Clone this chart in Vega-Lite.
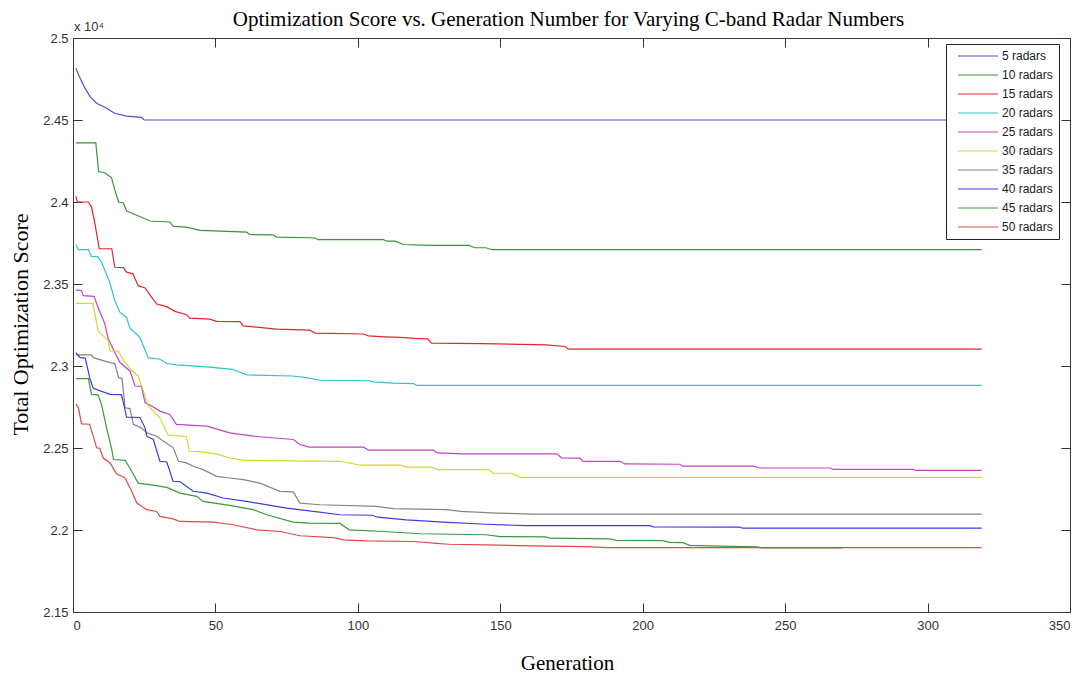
{
  "$schema": "https://vega.github.io/schema/vega-lite/v6.json",
  "width": 997,
  "height": 574,
  "autosize": {"type": "none"},
  "padding": {"left": 73, "top": 38, "right": 6, "bottom": 65},
  "background": "white",
  "datasets": {
    "note": [{"g": 0, "v": 25000, "label": "x 10⁴"}],
    "runs": [
      {"s":"5 radars","g":1,"v":24816},{"s":"5 radars","g":2.5,"v":24755},{"s":"5 radars","g":4.2,"v":24694},{"s":"5 radars","g":6,"v":24643},{"s":"5 radars","g":8.3,"v":24602},{"s":"5 radars","g":11.8,"v":24572},{"s":"5 radars","g":14.6,"v":24541},{"s":"5 radars","g":18.8,"v":24524},{"s":"5 radars","g":24,"v":24516},{"s":"5 radars","g":25,"v":24500},{"s":"5 radars","g":319,"v":24500},

      {"s":"10 radars","g":1,"v":24361},{"s":"10 radars","g":8,"v":24361},{"s":"10 radars","g":9,"v":24184},{"s":"10 radars","g":11,"v":24180},{"s":"10 radars","g":13.5,"v":24149},{"s":"10 radars","g":14.7,"v":24072},{"s":"10 radars","g":16,"v":24000},{"s":"10 radars","g":17.7,"v":23994},{"s":"10 radars","g":18.8,"v":23945},{"s":"10 radars","g":22.4,"v":23919},{"s":"10 radars","g":27,"v":23884},{"s":"10 radars","g":34,"v":23878},{"s":"10 radars","g":35.2,"v":23851},{"s":"10 radars","g":39.8,"v":23847},{"s":"10 radars","g":44.6,"v":23827},{"s":"10 radars","g":61,"v":23816},{"s":"10 radars","g":62,"v":23802},{"s":"10 radars","g":70.3,"v":23800},{"s":"10 radars","g":71.5,"v":23786},{"s":"10 radars","g":83,"v":23782},{"s":"10 radars","g":85,"v":23780},{"s":"10 radars","g":86,"v":23770},{"s":"10 radars","g":109,"v":23770},{"s":"10 radars","g":110,"v":23761},{"s":"10 radars","g":113,"v":23761},{"s":"10 radars","g":116,"v":23741},{"s":"10 radars","g":125,"v":23735},{"s":"10 radars","g":139,"v":23735},{"s":"10 radars","g":141,"v":23721},{"s":"10 radars","g":145,"v":23721},{"s":"10 radars","g":147,"v":23709},{"s":"10 radars","g":319,"v":23709},

      {"s":"15 radars","g":1,"v":24035},{"s":"15 radars","g":1.5,"v":24000},{"s":"15 radars","g":5.4,"v":24000},{"s":"15 radars","g":6.5,"v":23969},{"s":"15 radars","g":7.7,"v":23868},{"s":"15 radars","g":9.2,"v":23715},{"s":"15 radars","g":13.6,"v":23715},{"s":"15 radars","g":14.7,"v":23602},{"s":"15 radars","g":17.7,"v":23600},{"s":"15 radars","g":18.8,"v":23572},{"s":"15 radars","g":21,"v":23562},{"s":"15 radars","g":22.9,"v":23490},{"s":"15 radars","g":25.3,"v":23476},{"s":"15 radars","g":27.6,"v":23419},{"s":"15 radars","g":29.4,"v":23378},{"s":"15 radars","g":32.9,"v":23362},{"s":"15 radars","g":35.8,"v":23333},{"s":"15 radars","g":39.9,"v":23313},{"s":"15 radars","g":41,"v":23292},{"s":"15 radars","g":48,"v":23286},{"s":"15 radars","g":50.4,"v":23272},{"s":"15 radars","g":58.6,"v":23270},{"s":"15 radars","g":59.8,"v":23245},{"s":"15 radars","g":71.5,"v":23225},{"s":"15 radars","g":83,"v":23219},{"s":"15 radars","g":85,"v":23201},{"s":"15 radars","g":102,"v":23195},{"s":"15 radars","g":103.7,"v":23184},{"s":"15 radars","g":109.5,"v":23178},{"s":"15 radars","g":114.8,"v":23174},{"s":"15 radars","g":120,"v":23168},{"s":"15 radars","g":124.5,"v":23166},{"s":"15 radars","g":125.9,"v":23140},{"s":"15 radars","g":143.5,"v":23137},{"s":"15 radars","g":166,"v":23129},{"s":"15 radars","g":172.7,"v":23119},{"s":"15 radars","g":173.9,"v":23103},{"s":"15 radars","g":319,"v":23103},

      {"s":"20 radars","g":1,"v":23741},{"s":"20 radars","g":1.9,"v":23709},{"s":"20 radars","g":5.4,"v":23709},{"s":"20 radars","g":6.5,"v":23668},{"s":"20 radars","g":8.8,"v":23665},{"s":"20 radars","g":10,"v":23633},{"s":"20 radars","g":11.2,"v":23582},{"s":"20 radars","g":12.9,"v":23510},{"s":"20 radars","g":14.7,"v":23398},{"s":"20 radars","g":16.5,"v":23327},{"s":"20 radars","g":18.8,"v":23296},{"s":"20 radars","g":20,"v":23231},{"s":"20 radars","g":23.5,"v":23174},{"s":"20 radars","g":26.4,"v":23051},{"s":"20 radars","g":30.5,"v":23041},{"s":"20 radars","g":32.9,"v":23015},{"s":"20 radars","g":36.3,"v":23007},{"s":"20 radars","g":47,"v":22995},{"s":"20 radars","g":56,"v":22980},{"s":"20 radars","g":61,"v":22946},{"s":"20 radars","g":77,"v":22939},{"s":"20 radars","g":82,"v":22929},{"s":"20 radars","g":86.7,"v":22913},{"s":"20 radars","g":104,"v":22910},{"s":"20 radars","g":105.4,"v":22903},{"s":"20 radars","g":112.4,"v":22895},{"s":"20 radars","g":119.5,"v":22893},{"s":"20 radars","g":120.6,"v":22882},{"s":"20 radars","g":319,"v":22882},

      {"s":"25 radars","g":1,"v":23464},{"s":"25 radars","g":3,"v":23460},{"s":"25 radars","g":3.6,"v":23429},{"s":"25 radars","g":7.4,"v":23425},{"s":"25 radars","g":8.8,"v":23357},{"s":"25 radars","g":11.2,"v":23256},{"s":"25 radars","g":12.4,"v":23164},{"s":"25 radars","g":14.7,"v":23082},{"s":"25 radars","g":16.5,"v":23021},{"s":"25 radars","g":20,"v":22970},{"s":"25 radars","g":21.8,"v":22878},{"s":"25 radars","g":24,"v":22876},{"s":"25 radars","g":25.3,"v":22776},{"s":"25 radars","g":27.6,"v":22756},{"s":"25 radars","g":30.5,"v":22725},{"s":"25 radars","g":34,"v":22705},{"s":"25 radars","g":36.3,"v":22644},{"s":"25 radars","g":47,"v":22633},{"s":"25 radars","g":55,"v":22592},{"s":"25 radars","g":63.3,"v":22572},{"s":"25 radars","g":77.3,"v":22552},{"s":"25 radars","g":79.7,"v":22521},{"s":"25 radars","g":83,"v":22505},{"s":"25 radars","g":102,"v":22505},{"s":"25 radars","g":103.7,"v":22487},{"s":"25 radars","g":126.5,"v":22487},{"s":"25 radars","g":128,"v":22470},{"s":"25 radars","g":137,"v":22464},{"s":"25 radars","g":169.8,"v":22464},{"s":"25 radars","g":171.5,"v":22440},{"s":"25 radars","g":178,"v":22438},{"s":"25 radars","g":179,"v":22419},{"s":"25 radars","g":192,"v":22419},{"s":"25 radars","g":193.7,"v":22403},{"s":"25 radars","g":213,"v":22401},{"s":"25 radars","g":214,"v":22389},{"s":"25 radars","g":239,"v":22389},{"s":"25 radars","g":241,"v":22378},{"s":"25 radars","g":265.7,"v":22378},{"s":"25 radars","g":266.9,"v":22370},{"s":"25 radars","g":295,"v":22370},{"s":"25 radars","g":296,"v":22364},{"s":"25 radars","g":319,"v":22364},

      {"s":"30 radars","g":1,"v":23382},{"s":"30 radars","g":7,"v":23382},{"s":"30 radars","g":8.8,"v":23215},{"s":"30 radars","g":10.6,"v":23184},{"s":"30 radars","g":12.4,"v":23154},{"s":"30 radars","g":13,"v":23092},{"s":"30 radars","g":16,"v":23090},{"s":"30 radars","g":17.7,"v":23035},{"s":"30 radars","g":20.6,"v":22974},{"s":"30 radars","g":22.9,"v":22939},{"s":"30 radars","g":24.7,"v":22848},{"s":"30 radars","g":26.4,"v":22756},{"s":"30 radars","g":30.5,"v":22684},{"s":"30 radars","g":33.4,"v":22578},{"s":"30 radars","g":39.8,"v":22570},{"s":"30 radars","g":40.8,"v":22480},{"s":"30 radars","g":44.5,"v":22478},{"s":"30 radars","g":50.4,"v":22464},{"s":"30 radars","g":55,"v":22439},{"s":"30 radars","g":60.4,"v":22425},{"s":"30 radars","g":83,"v":22420},{"s":"30 radars","g":93.7,"v":22419},{"s":"30 radars","g":101,"v":22395},{"s":"30 radars","g":115,"v":22395},{"s":"30 radars","g":117,"v":22383},{"s":"30 radars","g":126,"v":22383},{"s":"30 radars","g":128,"v":22368},{"s":"30 radars","g":146,"v":22368},{"s":"30 radars","g":147.5,"v":22346},{"s":"30 radars","g":154,"v":22346},{"s":"30 radars","g":157,"v":22321},{"s":"30 radars","g":319,"v":22321},

      {"s":"35 radars","g":1,"v":23068},{"s":"35 radars","g":6.5,"v":23068},{"s":"35 radars","g":7.1,"v":23051},{"s":"35 radars","g":13,"v":23021},{"s":"35 radars","g":14.7,"v":23015},{"s":"35 radars","g":16,"v":22929},{"s":"35 radars","g":17.2,"v":22925},{"s":"35 radars","g":18.3,"v":22745},{"s":"35 radars","g":20,"v":22740},{"s":"35 radars","g":21.2,"v":22644},{"s":"35 radars","g":24,"v":22623},{"s":"35 radars","g":25.9,"v":22592},{"s":"35 radars","g":29.4,"v":22572},{"s":"35 radars","g":31.7,"v":22542},{"s":"35 radars","g":35.2,"v":22501},{"s":"35 radars","g":37,"v":22419},{"s":"35 radars","g":39.8,"v":22409},{"s":"35 radars","g":42.2,"v":22389},{"s":"35 radars","g":45.7,"v":22368},{"s":"35 radars","g":50.4,"v":22327},{"s":"35 radars","g":55,"v":22317},{"s":"35 radars","g":59.8,"v":22307},{"s":"35 radars","g":65.6,"v":22286},{"s":"35 radars","g":72.7,"v":22236},{"s":"35 radars","g":77.3,"v":22232},{"s":"35 radars","g":79.7,"v":22164},{"s":"35 radars","g":86.7,"v":22154},{"s":"35 radars","g":106.6,"v":22144},{"s":"35 radars","g":112.4,"v":22130},{"s":"35 radars","g":131,"v":22124},{"s":"35 radars","g":136,"v":22113},{"s":"35 radars","g":148.7,"v":22103},{"s":"35 radars","g":161.6,"v":22097},{"s":"35 radars","g":319,"v":22097},

      {"s":"40 radars","g":1,"v":23082},{"s":"40 radars","g":2.5,"v":23051},{"s":"40 radars","g":4.3,"v":23048},{"s":"40 radars","g":6,"v":22919},{"s":"40 radars","g":7.1,"v":22864},{"s":"40 radars","g":13,"v":22827},{"s":"40 radars","g":17,"v":22825},{"s":"40 radars","g":17.7,"v":22776},{"s":"40 radars","g":18.8,"v":22688},{"s":"40 radars","g":23.5,"v":22686},{"s":"40 radars","g":25.3,"v":22623},{"s":"40 radars","g":25.9,"v":22572},{"s":"40 radars","g":28.2,"v":22552},{"s":"40 radars","g":30.5,"v":22419},{"s":"40 radars","g":32.9,"v":22415},{"s":"40 radars","g":34,"v":22358},{"s":"40 radars","g":35.1,"v":22297},{"s":"40 radars","g":37.5,"v":22295},{"s":"40 radars","g":42.2,"v":22236},{"s":"40 radars","g":47,"v":22225},{"s":"40 radars","g":52.7,"v":22195},{"s":"40 radars","g":61,"v":22174},{"s":"40 radars","g":75,"v":22133},{"s":"40 radars","g":83,"v":22117},{"s":"40 radars","g":84.4,"v":22113},{"s":"40 radars","g":93.7,"v":22093},{"s":"40 radars","g":105,"v":22090},{"s":"40 radars","g":107,"v":22078},{"s":"40 radars","g":117,"v":22062},{"s":"40 radars","g":130,"v":22048},{"s":"40 radars","g":145,"v":22035},{"s":"40 radars","g":159,"v":22027},{"s":"40 radars","g":202.5,"v":22027},{"s":"40 radars","g":203.7,"v":22019},{"s":"40 radars","g":234,"v":22018},{"s":"40 radars","g":235,"v":22011},{"s":"40 radars","g":319,"v":22011},

      {"s":"45 radars","g":1,"v":22923},{"s":"45 radars","g":5.4,"v":22923},{"s":"45 radars","g":6.5,"v":22827},{"s":"45 radars","g":8.8,"v":22824},{"s":"45 radars","g":10,"v":22766},{"s":"45 radars","g":11.8,"v":22623},{"s":"45 radars","g":13.6,"v":22491},{"s":"45 radars","g":14.2,"v":22430},{"s":"45 radars","g":18.3,"v":22425},{"s":"45 radars","g":20.6,"v":22358},{"s":"45 radars","g":22.9,"v":22286},{"s":"45 radars","g":27,"v":22277},{"s":"45 radars","g":32.9,"v":22260},{"s":"45 radars","g":37.6,"v":22225},{"s":"45 radars","g":43.4,"v":22205},{"s":"45 radars","g":45.7,"v":22174},{"s":"45 radars","g":55,"v":22150},{"s":"45 radars","g":63.3,"v":22124},{"s":"45 radars","g":68,"v":22093},{"s":"45 radars","g":77.3,"v":22048},{"s":"45 radars","g":83,"v":22042},{"s":"45 radars","g":93.7,"v":22040},{"s":"45 radars","g":97,"v":22001},{"s":"45 radars","g":109,"v":21991},{"s":"45 radars","g":122,"v":21977},{"s":"45 radars","g":145,"v":21971},{"s":"45 radars","g":150,"v":21960},{"s":"45 radars","g":166,"v":21958},{"s":"45 radars","g":167.4,"v":21950},{"s":"45 radars","g":188.5,"v":21946},{"s":"45 radars","g":190.8,"v":21937},{"s":"45 radars","g":207,"v":21935},{"s":"45 radars","g":209.5,"v":21925},{"s":"45 radars","g":214,"v":21923},{"s":"45 radars","g":216.6,"v":21906},{"s":"45 radars","g":227,"v":21902},{"s":"45 radars","g":240,"v":21897},{"s":"45 radars","g":242,"v":21891},{"s":"45 radars","g":270,"v":21891},

      {"s":"50 radars","g":1,"v":22770},{"s":"50 radars","g":1.9,"v":22745},{"s":"50 radars","g":3,"v":22647},{"s":"50 radars","g":5.8,"v":22645},{"s":"50 radars","g":7.1,"v":22572},{"s":"50 radars","g":8.3,"v":22501},{"s":"50 radars","g":9.4,"v":22498},{"s":"50 radars","g":10.6,"v":22439},{"s":"50 radars","g":13,"v":22409},{"s":"50 radars","g":15.3,"v":22342},{"s":"50 radars","g":18.3,"v":22317},{"s":"50 radars","g":20.6,"v":22236},{"s":"50 radars","g":22.4,"v":22164},{"s":"50 radars","g":25.9,"v":22124},{"s":"50 radars","g":29.4,"v":22113},{"s":"50 radars","g":30.5,"v":22083},{"s":"50 radars","g":35.1,"v":22068},{"s":"50 radars","g":37.6,"v":22052},{"s":"50 radars","g":49.2,"v":22048},{"s":"50 radars","g":56.3,"v":22032},{"s":"50 radars","g":64.5,"v":22001},{"s":"50 radars","g":72.7,"v":21991},{"s":"50 radars","g":79.7,"v":21965},{"s":"50 radars","g":91.4,"v":21954},{"s":"50 radars","g":95,"v":21940},{"s":"50 radars","g":103,"v":21934},{"s":"50 radars","g":119.5,"v":21930},{"s":"50 radars","g":127.6,"v":21919},{"s":"50 radars","g":132,"v":21913},{"s":"50 radars","g":145,"v":21909},{"s":"50 radars","g":161.6,"v":21903},{"s":"50 radars","g":180,"v":21899},{"s":"50 radars","g":187,"v":21892},{"s":"50 radars","g":319,"v":21892}
    ]
  },
  "layer": [
    {
      "data": {"name": "runs"},
      "mark": {"type": "line", "strokeWidth": 1.2, "clip": true},
      "encoding": {
        "x": {
          "field": "g", "type": "quantitative",
          "scale": {"domain": [0, 350], "nice": false, "zero": false},
          "axis": {
            "orient": "bottom",
            "values": [0, 50, 100, 150, 200, 250, 300, 350],
            "title": "Generation",
            "titleX": 494, "titleY": 57,
            "titleBaseline": "alphabetic",
            "labelPadding": 16
          }
        },
        "y": {
          "field": "v", "type": "quantitative",
          "scale": {"domain": [21500, 25000], "nice": false, "zero": false},
          "axis": {
            "orient": "left",
            "values": [21500, 22000, 22500, 23000, 23500, 24000, 24500, 25000],
            "labelExpr": "format(datum.value / 10000, '~g')",
            "title": "Total Optimization Score",
            "titleX": -46, "titleY": 286,
            "titleFontSize": 22,
            "titleBaseline": "alphabetic",
            "labelPadding": 14
          }
        },
        "color": {
          "field": "s", "type": "nominal",
          "scale": {
            "domain": ["5 radars","10 radars","15 radars","20 radars","25 radars","30 radars","35 radars","40 radars","45 radars","50 radars"],
            "range": ["#5050d0","#3a943a","#e02828","#30c4c4","#c444c4","#d6d62c","#858585","#3c3ce0","#3a9a3a","#e24848"]
          },
          "legend": {
            "orient": "none",
            "legendX": 873,
            "legendY": 6,
            "title": null,
            "fillColor": "white",
            "strokeColor": "#222",
            "padding": 6,
            "symbolType": "M0,0H8",
            "symbolSize": 100,
            "symbolStrokeWidth": 1.2,
            "labelOffset": 38,
            "labelFont": "Liberation Sans",
            "labelFontSize": 12,
            "labelColor": "#222",
            "rowPadding": 7
          }
        }
      }
    },
    {
      "data": {"name": "note"},
      "mark": {"type": "text", "align": "left", "baseline": "alphabetic", "dx": 1, "dy": -7, "font": "Liberation Sans", "fontSize": 13, "color": "#333"},
      "encoding": {
        "x": {
          "field": "g", "type": "quantitative",
          "axis": {
            "orient": "top", "labels": false,
            "title": "Optimization Score vs. Generation Number for Varying C-band Radar Numbers",
            "titleX": 495, "titleY": -13,
            "titleFontSize": 21,
            "titleBaseline": "alphabetic",
            "titleAlign": "center",
            "values": [0, 50, 100, 150, 200, 250, 300, 350]
          }
        },
        "y": {"field": "v", "type": "quantitative", "axis": {"orient": "right", "labels": false, "title": null, "values": [21500, 22000, 22500, 23000, 23500, 24000, 24500, 25000]}},
        "text": {"field": "label"}
      }
    }
  ],
  "resolve": {"axis": {"x": "independent", "y": "independent"}},
  "config": {
    "view": {"stroke": "#3a3a3a", "strokeWidth": 1},
    "axis": {
      "domain": false,
      "grid": false,
      "tickSize": -9,
      "tickColor": "#333",
      "tickWidth": 1,
      "labelFont": "Liberation Sans",
      "labelFontSize": 13,
      "labelColor": "#333",
      "titleFont": "Liberation Serif",
      "titleFontSize": 21,
      "titleFontWeight": "normal",
      "titleColor": "#000"
    }
  }
}
